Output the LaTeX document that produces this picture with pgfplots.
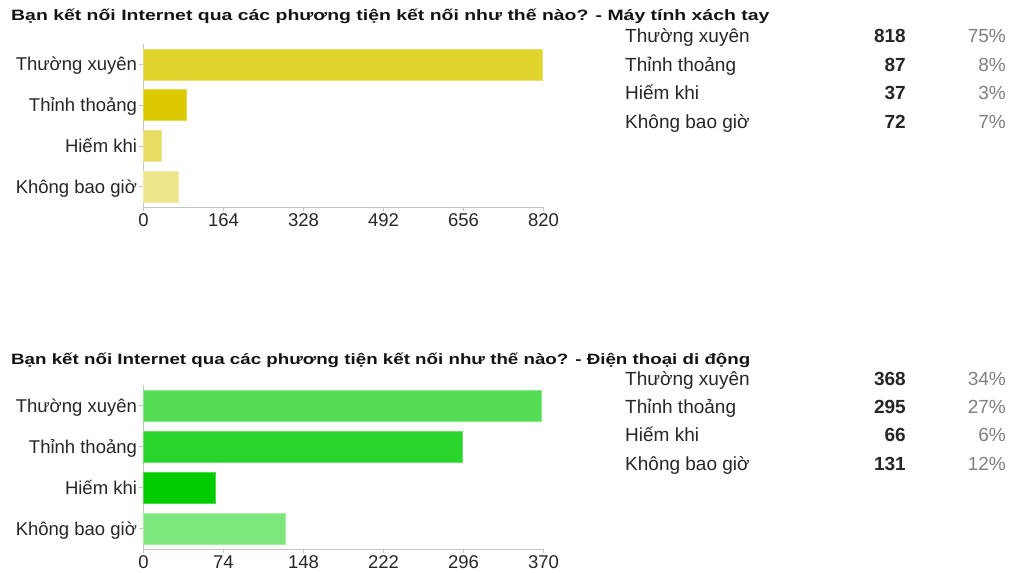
\documentclass[border=0pt]{standalone}
\usepackage{pgfplots}
\pgfplotsset{compat=1.18}
\usepackage{fontspec}
\setmainfont{Liberation Sans}
\newfontfamily\titlefont[FakeStretch=1.295]{Liberation Sans}
\newfontfamily\titlefontb[FakeStretch=1.25]{Liberation Sans}
\definecolor{ya}{HTML}{E0D32B}
\definecolor{yb}{HTML}{DCC900}
\definecolor{yc}{HTML}{E8DC62}
\definecolor{yd}{HTML}{EEE48A}
\definecolor{ga}{HTML}{55DD55}
\definecolor{gb}{HTML}{2AD42A}
\definecolor{gc}{HTML}{00CC00}
\definecolor{gd}{HTML}{7DE67D}
\definecolor{axgray}{HTML}{C4C4C4}
\definecolor{pctgray}{HTML}{808080}
\pgfplotsset{
  bararea/.style={
    scale only axis,
    width=400pt,
    xbar, bar width=31pt, bar shift=0pt,
    y dir=reverse,
    ymin=-0.5, ymax=3.5,
    xmin=0,
    axis x line*=bottom, axis y line*=left,
    axis line style={axgray, line width=0.8pt},
    tick style={axgray, line width=0.8pt},
    tick align=outside,
    major tick length=4pt,
    ytick={0,1,2,3},
    yticklabels={Thường xuyên,Thỉnh thoảng,Hiếm khi,Không bao giờ},
    tick label style={font=\fontsize{18.5}{20}\selectfont, text=black!85},
    /pgf/number format/assume math mode=true,
    scaled x ticks=false,
    xticklabel style={yshift=1pt},
    yticklabel style={anchor=base east, yshift=-6.5pt, xshift=1pt},
    clip=false,
  },
  barfill/.style={draw=#1!70!white, line width=0.6pt, fill=#1},
}
\newcommand{\tbl}[5]{%
  \node[anchor=base west, inner sep=0, font=\fontsize{19}{21}\selectfont, text=black!85] at (625,#1) {#2};
  \node[anchor=base east, inner sep=0, font=\bfseries\fontsize{19}{21}\selectfont, text=black!85] at (906,#1) {#3};
  \node[anchor=base east, inner sep=0, font=\fontsize{19}{21}\selectfont, text=pctgray] at (1006,#1) {#4};
}
\begin{document}
\begin{tikzpicture}[x=1pt,y=1pt]
\path (0,0) rectangle (1010,571);
% titles
\node[anchor=base west, inner sep=0, font=\titlefont\bfseries\fontsize{15}{18}\selectfont, text=black!92] at (11,{571-20.7}) {Bạn kết nối Internet qua các phương tiện kết nối như thế nào? - Máy tính xách tay};
\node[anchor=base west, inner sep=0, font=\titlefontb\bfseries\fontsize{15}{18}\selectfont, text=black!92] at (11,{571-364}) {Bạn kết nối Internet qua các phương tiện kết nối như thế nào? - Điện thoại di động};
% chart 1
\begin{axis}[bararea, at={(143.5pt,363.7pt)}, anchor=south west, height=163.3pt,
  xmax=820, xtick={0,164,328,492,656,820}]
  \addplot[barfill=ya] coordinates {(818,0)};
  \addplot[barfill=yb] coordinates {(87,1)};
  \addplot[barfill=yc] coordinates {(37,2)};
  \addplot[barfill=yd] coordinates {(72,3)};
\end{axis}
% chart 2
\begin{axis}[bararea, at={(143.5pt,21.7pt)}, anchor=south west, height=164.3pt,
  xmax=370, xtick={0,74,148,222,296,370}]
  \addplot[barfill=ga] coordinates {(368,0)};
  \addplot[barfill=gb] coordinates {(295,1)};
  \addplot[barfill=gc] coordinates {(66,2)};
  \addplot[barfill=gd] coordinates {(131,3)};
\end{axis}
% tables
\tbl{571-43}{Thường xuyên}{818}{75\%}{}
\tbl{571-71.5}{Thỉnh thoảng}{87}{8\%}{}
\tbl{571-100}{Hiếm khi}{37}{3\%}{}
\tbl{571-128.3}{Không bao giờ}{72}{7\%}{}
\tbl{571-385}{Thường xuyên}{368}{34\%}{}
\tbl{571-413.3}{Thỉnh thoảng}{295}{27\%}{}
\tbl{571-441.7}{Hiếm khi}{66}{6\%}{}
\tbl{571-470}{Không bao giờ}{131}{12\%}{}
\end{tikzpicture}
\end{document}
